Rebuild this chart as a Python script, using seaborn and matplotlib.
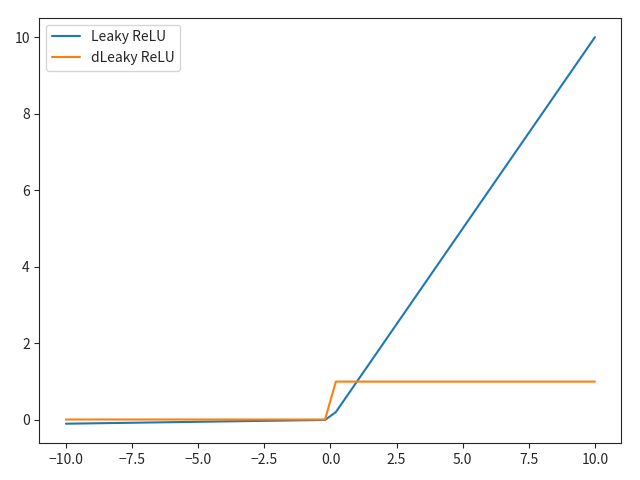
import matplotlib
matplotlib.use("Agg")
import matplotlib.pyplot as plt
import seaborn as sns
import pandas as pd

# Vertices of the piecewise-linear curves (x sampled on a 50-point grid; only kinks kept)
x_vals = [-10.0, -0.204, 0.204, 10.0]
leaky_relu = [-0.1, -0.00204, 0.204, 10.0]
d_leaky_relu = [0.01, 0.01, 1.0, 1.0]
labels = ["Leaky ReLU", "dLeaky ReLU"]

sns.set_style("ticks")
plt.rcParams['font.family'] = ['Noto Sans CJK SC', 'DejaVu Sans']
plt.rcParams['axes.unicode_minus'] = True

df = pd.DataFrame({
    "x": x_vals * 2,
    "y": leaky_relu + d_leaky_relu,
    "series": [labels[0]] * len(x_vals) + [labels[1]] * len(x_vals),
})

fig, ax = plt.subplots(figsize=(6.4, 4.8), dpi=100)
sns.lineplot(data=df, x="x", y="y", hue="series", palette=["#1f77b4", "#ff7f0e"],
             ax=ax, estimator=None, sort=False, linewidth=1.5)
for s in ax.spines.values():
    s.set_visible(True)
ax.set_xlabel("")
ax.set_ylabel("")
ax.set_xticks([-10, -7.5, -5, -2.5, 0, 2.5, 5, 7.5, 10])
ax.set_yticks([0, 2, 4, 6, 8, 10])
ax.tick_params(labelsize=10)
ax.legend(title=None, loc="upper left")
fig.subplots_adjust(left=0.0617, right=0.971, top=0.963, bottom=0.077)
fig.savefig("out.png", dpi=100)
